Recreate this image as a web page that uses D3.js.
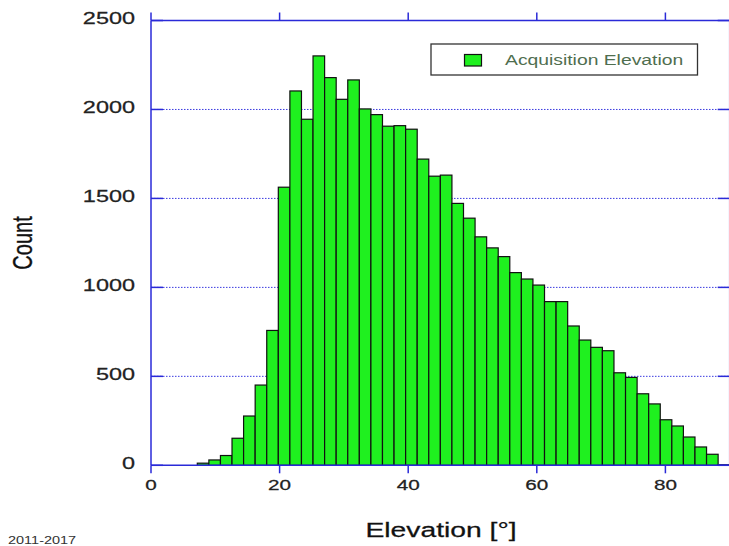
<!DOCTYPE html>
<html>
<head>
<meta charset="utf-8">
<script src="https://cdn.jsdelivr.net/npm/d3@7"></script>
<style>
  html, body { margin: 0; padding: 0; background: #fff; }
  svg { display: block; }
  text { font-family: "Liberation Sans", Arial, sans-serif; }
</style>
</head>
<body>
<svg id="chart" width="729" height="546"></svg>
<script>
// ---- data ----
const binStarts = [7.2, 9.0, 10.8, 12.6, 14.4, 16.2, 18.0, 19.8, 21.6, 23.4, 25.2, 27.0, 28.8, 30.6, 32.4, 34.2,
  36.0, 37.8, 39.6, 41.4, 43.2, 45.0, 46.8, 48.6, 50.4, 52.2, 54.0, 55.8, 57.6, 59.4, 61.2, 63.0,
  64.8, 66.6, 68.4, 70.2, 72.0, 73.8, 75.6, 77.4, 79.2, 81.0, 82.8, 84.6, 86.4, 88.2];
const counts = [12, 30, 55, 152, 277, 451, 758, 1563, 2104, 1945, 2301, 2179, 2057, 2166, 2003, 1971,
  1906, 1909, 1889, 1721, 1625, 1631, 1472, 1389, 1284, 1222, 1173, 1083, 1047, 1013, 920, 920,
  783, 704, 663, 644, 520, 494, 402, 345, 256, 221, 159, 103, 62, 3];
const binWidth = 1.8;
const xTicks = [0, 20, 40, 60, 80];
const yTicks = [0, 500, 1000, 1500, 2000, 2500];
const gridTicks = [500, 1000, 1500, 2000];
const seriesName = "Acquisition Elevation";
const xTitle = "Elevation [°]";
const yTitle = "Count";
const footnote = "2011-2017";

// ---- layout ----
const SX = 1.38; // horizontal stretch of the reference text
const pLeft = 151, pRight = 729.7, pTop = 20.5, pBottom = 465.3;
const axisColor = "#2a2ad8";
const barFill = "#1ff01f";

const svg = d3.select("#chart");
svg.append("rect").attr("width", 729).attr("height", 546).attr("fill", "#fff");

const x = d3.scaleLinear().domain([0, 90]).range([pLeft, pRight]);
const y = d3.scaleLinear().domain([0, 2500]).range([pBottom, pTop]);

const data = binStarts.map((s, i) => ({ start: s, count: counts[i] }));

// gridlines
svg.append("g").selectAll("line").data(gridTicks).join("line")
  .attr("x1", pLeft).attr("x2", pRight)
  .attr("y1", d => y(d)).attr("y2", d => y(d))
  .attr("stroke", "#3a3ae0").attr("stroke-width", 1)
  .attr("stroke-dasharray", "1.5,1.5");

// bars
svg.append("g").selectAll("rect").data(data).join("rect")
  .attr("x", d => x(d.start))
  .attr("width", d => x(d.start + binWidth) - x(d.start))
  .attr("y", d => y(d.count))
  .attr("height", d => y(0) - y(d.count))
  .attr("fill", barFill)
  .attr("stroke", "#111")
  .attr("stroke-width", 1.2);

// axes (frame)
const axes = svg.append("g").attr("stroke", axisColor).attr("stroke-width", 1.5).attr("fill", "none");
axes.append("line").attr("x1", pLeft).attr("x2", pRight).attr("y1", pBottom).attr("y2", pBottom);
axes.append("line").attr("x1", pLeft).attr("x2", pRight).attr("y1", pTop).attr("y2", pTop);
axes.append("line").attr("x1", pLeft).attr("x2", pLeft).attr("y1", pTop).attr("y2", pBottom);
axes.append("line").attr("x1", pRight).attr("x2", pRight).attr("y1", pTop).attr("y2", pBottom);

// x ticks: outward on bottom and top
axes.selectAll(".xb").data(xTicks).join("line").attr("class", "xb")
  .attr("x1", d => x(d)).attr("x2", d => x(d))
  .attr("y1", pBottom).attr("y2", pBottom + 8);
axes.selectAll(".xt").data(xTicks).join("line").attr("class", "xt")
  .attr("x1", d => x(d)).attr("x2", d => x(d))
  .attr("y1", pTop).attr("y2", pTop - 8);
// y ticks: inward on left and right
axes.selectAll(".yl").data(yTicks).join("line").attr("class", "yl")
  .attr("x1", pLeft).attr("x2", pLeft + 12)
  .attr("y1", d => y(d)).attr("y2", d => y(d));
axes.selectAll(".yr").data(yTicks).join("line").attr("class", "yr")
  .attr("x1", pRight - 12).attr("x2", pRight)
  .attr("y1", d => y(d)).attr("y2", d => y(d));

// tick labels
svg.append("g").selectAll("text").data(yTicks).join("text")
  .attr("transform", d => `translate(135,${y(d) + 3.5}) scale(${SX},1)`)
  .attr("text-anchor", "end")
  .attr("font-size", 17).attr("fill", "#222")
  .attr("stroke", "#222").attr("stroke-width", 0.25)
  .text(d => d);
svg.append("g").selectAll("text").data(xTicks).join("text")
  .attr("transform", d => `translate(${x(d)},490) scale(${SX},1)`)
  .attr("text-anchor", "middle")
  .attr("font-size", 15).attr("fill", "#222")
  .attr("stroke", "#222").attr("stroke-width", 0.25)
  .text(d => d);

// axis titles
svg.append("text")
  .attr("transform", `translate(441,537) scale(${SX},1)`)
  .attr("text-anchor", "middle").attr("font-size", 20.5).attr("fill", "#111")
  .attr("stroke", "#111").attr("stroke-width", 0.25)
  .text(xTitle);
svg.append("text")
  .attr("transform", `translate(32,243) scale(${SX},1) rotate(-90)`)
  .attr("text-anchor", "middle").attr("font-size", 20).attr("fill", "#111")
  .attr("stroke", "#111").attr("stroke-width", 0.25)
  .text(yTitle);
svg.append("text")
  .attr("transform", `translate(8,544) scale(${SX},1)`)
  .attr("font-size", 10.5).attr("fill", "#333")
  .text(footnote);

// legend
const lg = svg.append("g");
lg.append("rect").attr("x", 431).attr("y", 44).attr("width", 266.5).attr("height", 31)
  .attr("fill", "#fff").attr("stroke", "#333").attr("stroke-width", 1.3);
lg.append("rect").attr("x", 464.5).attr("y", 54.5).attr("width", 17).attr("height", 11.5)
  .attr("fill", barFill).attr("stroke", "#111").attr("stroke-width", 1.2);
lg.append("text")
  .attr("transform", `translate(505,64.5) scale(${SX},1)`)
  .attr("font-size", 14).attr("fill", "#4f6e4f")
  .text(seriesName);
</script>
</body>
</html>
